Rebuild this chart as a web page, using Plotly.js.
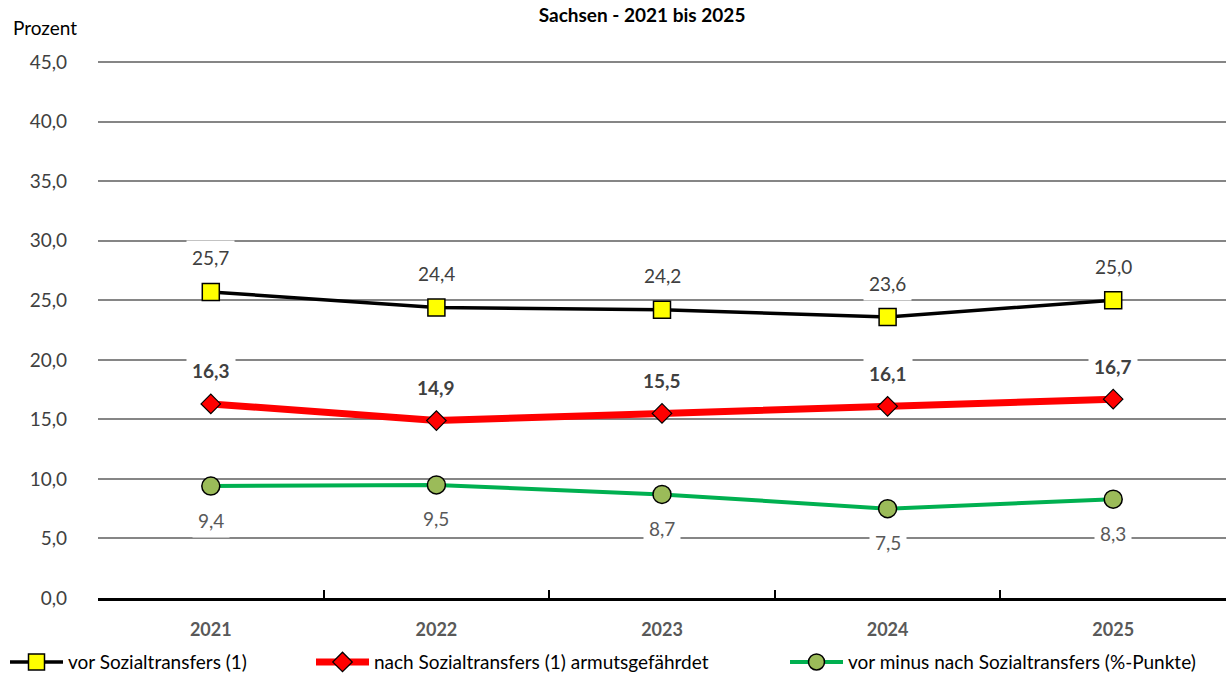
<!DOCTYPE html>
<html>
<head>
<meta charset="utf-8">
<script src="https://cdn.plot.ly/plotly-3.0.1.min.js"></script>
<style>html,body{margin:0;padding:0;background:#fff;}#chart{width:1230px;height:677px;}</style>
</head>
<body>
<div id="chart"></div>
<script>
const years = ['2021', '2022', '2023', '2024', '2025'];
const vorSozial = [25.7, 24.4, 24.2, 23.6, 25.0];
const nachSozial = [16.3, 14.9, 15.5, 16.1, 16.7];
const differenz = [9.4, 9.5, 8.7, 7.5, 8.3];
const seriesNames = ['vor Sozialtransfers (1)', 'nach Sozialtransfers (1) armutsgefährdet', 'vor minus nach Sozialtransfers (%-Punkte)'];
const yTicks = [0, 5, 10, 15, 20, 25, 30, 35, 40, 45];

const FONT = 'Lato, "Noto Sans", sans-serif';
const fmt = v => v.toFixed(1).replace('.', ',');

const traces = [
  {x: years, y: vorSozial, name: seriesNames[0], type: 'scatter', mode: 'lines+markers', legend: 'legend',
   line: {color: '#000000', width: 3.5},
   marker: {symbol: 'square', size: 17, color: '#FFFF00', line: {color: '#000000', width: 1.5}}},
  {x: years, y: nachSozial, name: seriesNames[1], type: 'scatter', mode: 'lines+markers', legend: 'legend2',
   line: {color: '#FF0000', width: 7},
   marker: {symbol: 'diamond', size: 15, color: '#FF0000', line: {color: '#000000', width: 1.2}}},
  {x: years, y: differenz, name: seriesNames[2], type: 'scatter', mode: 'lines+markers', legend: 'legend3',
   line: {color: '#00B050', width: 4},
   marker: {symbol: 'circle', size: 18, color: '#9BBB59', line: {color: '#000000', width: 1.5}}}
];

const annotations = [];
years.forEach((yr, i) => {
  annotations.push({x: i, y: vorSozial[i], xref: 'x', yref: 'y', text: fmt(vorSozial[i]), showarrow: false,
    yshift: 34, bgcolor: '#ffffff', borderpad: 5, font: {family: FONT, size: 19, color: '#404040'}});
  annotations.push({x: i, y: nachSozial[i], xref: 'x', yref: 'y', text: '<b>' + fmt(nachSozial[i]) + '</b>', showarrow: false,
    yshift: 33, bgcolor: '#ffffff', borderpad: 5, font: {family: FONT, size: 19, color: '#404040'}});
  annotations.push({x: i, y: differenz[i], xref: 'x', yref: 'y', text: fmt(differenz[i]), showarrow: false,
    yshift: -34, bgcolor: '#ffffff', borderpad: 5, font: {family: FONT, size: 19, color: '#595959'}});
});
annotations.push({xref: 'paper', yref: 'paper', x: -0.077, y: 1.0, yshift: 34, xanchor: 'left', yanchor: 'middle',
  text: 'Prozent', showarrow: false, font: {family: FONT, size: 19, color: '#000000'}});

const legendBase = {orientation: 'h', xref: 'container', yref: 'container', xanchor: 'left', yanchor: 'middle',
  y: 0.022, font: {family: FONT, size: 19, color: '#000000'}, itemwidth: 53, bgcolor: 'rgba(0,0,0,0)'};

const layout = {
  width: 1230, height: 677,
  margin: {l: 98, r: 4, t: 61, b: 79, autoexpand: false},
  paper_bgcolor: '#ffffff', plot_bgcolor: '#ffffff',
  separators: ',.',
  font: {family: FONT, color: '#404040'},
  title: {text: '<b>Sachsen - 2021 bis 2025</b>', x: 0.522, xanchor: 'center', y: 0.977, yanchor: 'middle',
          font: {family: FONT, size: 19, color: '#000000'}},
  xaxis: {type: 'category', range: [-0.5, 4.5], showgrid: false, zeroline: false,
          showline: true, linecolor: '#000000', linewidth: 3,
          ticks: 'inside', tickson: 'boundaries', ticklen: 8, tickwidth: 2, tickcolor: '#000000',
          tickfont: {family: FONT, size: 18, color: '#595959', weight: 'bold'}, ticklabelstandoff: 13},
  yaxis: {range: [0, 45.1], tickvals: yTicks, tickformat: '.1f', showgrid: true, gridcolor: '#868686', gridwidth: 2,
          zeroline: false, showline: false, ticks: '', ticklabelstandoff: 30,
          tickfont: {family: FONT, size: 19, color: '#404040'}},
  showlegend: true,
  legend: Object.assign({}, legendBase, {x: 5 / 1230}),
  legend2: Object.assign({}, legendBase, {x: 311 / 1230}),
  legend3: Object.assign({}, legendBase, {x: 785 / 1230}),
  annotations: annotations
};

Plotly.newPlot('chart', traces, layout, {staticPlot: true, displayModeBar: false});
</script>
</body>
</html>
